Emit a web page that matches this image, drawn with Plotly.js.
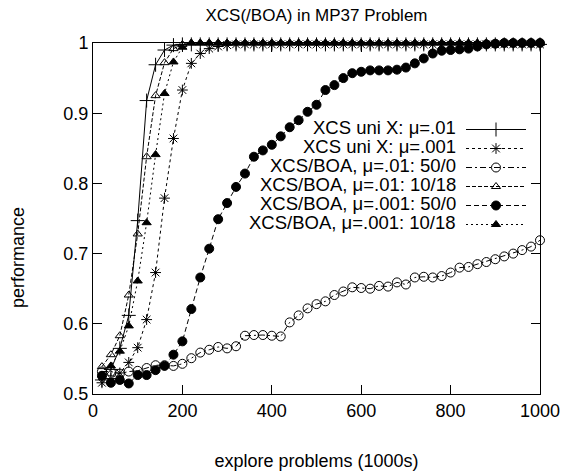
<!DOCTYPE html>
<html><head><meta charset="utf-8">
<script src="https://cdn.plot.ly/plotly-3.0.1.min.js"></script>
<style>html,body{margin:0;padding:0;background:#fff}</style>
</head><body>
<div id="chart" style="width:563px;height:472px"></div>
<script>
const explore = [20,40,60,80,100,120,140,160,180,200,
  220,240,260,280,300,320,340,360,380,400,
  420,440,460,480,500,520,540,560,580,600,
  620,640,660,680,700,720,740,760,780,800,
  820,840,860,880,900,920,940,960,980,1000];

const seriesNames = ['XCS uni X: μ=.01','XCS uni X: μ=.001','XCS/BOA, μ=.01: 50/0',
  'XCS/BOA, μ=.01: 10/18','XCS/BOA, μ=.001: 50/0','XCS/BOA, μ=.001: 10/18'];

const xcsUni01 = [0.520,0.535,0.565,0.612,0.747,0.918,0.969,0.990,0.997,0.998,
  0.998,0.998,0.998,0.998,0.998,0.998,0.998,0.998,0.998,0.998,
  0.998,0.998,0.998,0.998,0.998,0.998,0.998,0.998,0.998,0.998,
  0.998,0.998,0.998,0.998,0.998,0.998,0.998,0.998,0.998,0.998,
  0.998,0.998,0.998,0.998,0.998,0.998,0.998,0.998,0.998,0.998];

const xcsUni001 = [0.516,0.522,0.530,0.545,0.566,0.606,0.673,0.779,0.864,0.933,
  0.971,0.985,0.992,0.995,0.997,0.998,0.998,0.998,0.998,0.998,
  0.998,0.998,0.998,0.998,0.998,0.998,0.998,0.998,0.998,0.998,
  0.998,0.998,0.998,0.998,0.998,0.998,0.998,0.998,0.998,0.998,
  0.998,0.998,0.998,0.998,0.998,0.998,0.998,0.998,0.998,0.998];

const boa01_50 = [0.532,0.532,0.529,0.532,0.533,0.537,0.541,0.541,0.540,0.543,
  0.551,0.559,0.563,0.567,0.565,0.568,0.583,0.584,0.584,0.583,
  0.582,0.602,0.612,0.622,0.628,0.632,0.641,0.646,0.652,0.651,
  0.650,0.654,0.653,0.659,0.656,0.666,0.667,0.666,0.668,0.673,
  0.680,0.681,0.685,0.688,0.692,0.696,0.700,0.705,0.710,0.719];

const boa01_10 = [0.539,0.556,0.583,0.641,0.728,0.838,0.925,0.972,0.992,0.998,
  1,1,1,1,1,1,1,1,1,1,
  1,1,1,1,1,1,1,1,1,1,
  1,1,1,1,1,1,1,1,1,1,
  1,1,1,1,1,1,1,1,1,1];

const boa001_50 = [0.526,0.516,0.520,0.515,0.527,0.527,0.534,0.540,0.556,0.575,
  0.621,0.666,0.707,0.749,0.772,0.795,0.814,0.838,0.847,0.855,
  0.867,0.880,0.890,0.902,0.912,0.933,0.940,0.950,0.957,0.959,
  0.961,0.961,0.961,0.962,0.965,0.971,0.978,0.985,0.989,0.990,
  0.991,0.992,0.995,0.998,0.999,1,1,1,1,1];

const boa001_10 = [0.527,0.540,0.561,0.597,0.661,0.744,0.841,0.928,0.973,0.994,
  1,1,1,1,1,1,1,1,1,1,
  1,1,1,1,1,1,1,1,1,1,
  1,1,1,1,1,1,1,1,1,1,
  1,1,1,1,1,1,1,1,1,1];

const xTicks = [0,200,400,600,800,1000];
const yTicks = [0.5,0.6,0.7,0.8,0.9,1];
const yTickText = ['0.5','0.6','0.7','0.8','0.9','1'];

const allY = [xcsUni01,xcsUni001,boa01_50,boa01_10,boa001_50,boa001_10];
const styles = [
  {dash:'solid', symbol:'cross-thin-open', size:10},
  {dash:'3px,3px', symbol:'asterisk-open', size:9},
  {dash:'6px,3px,2px,3px', symbol:'circle-open', size:9},
  {dash:'4px,2px', symbol:'triangle-up-open', size:8},
  {dash:'5px,3px', symbol:'circle', size:9},
  {dash:'2px,3px', symbol:'triangle-up', size:8}
];

const traces = [];
allY.forEach((ys,i)=>{
  const s = styles[i];
  traces.push({
    x: explore, y: ys, type:'scatter', mode:'lines+markers', name: seriesNames[i],
    showlegend:false, cliponaxis:false,
    line:{color:'#000', width:1, dash:s.dash},
    marker:{symbol:s.symbol, size:s.size, color:'#000', line:{color:'#000', width:1}}
  });
});
// legend samples (no data)
allY.forEach((ys,i)=>{
  const s = styles[i];
  traces.push({
    x:[null], y:[null], type:'scatter', mode:'lines+markers', name:' ',
    showlegend:true, legendgroup:'g'+i,
    line:{color:'#000', width:1, dash:s.dash},
    marker:{symbol:s.symbol, size:s.size, color:'#000', line:{color:'#000', width:1}}
  });
});

const plotL = 93, plotR = 540, plotT = 43, plotB = 394;
const W = plotR-plotL, H = plotB-plotT;
const rowTop = 127, rowGap = 19, textRight = 458;
const annotations = seriesNames.map((t,i)=>({
  text:t, xref:'paper', yref:'paper', showarrow:false,
  x:(textRight-plotL)/W, xanchor:'right',
  y:(plotB-(rowTop+rowGap*i))/H, yanchor:'middle',
  font:{size:18.5, color:'#000'}
}));
annotations.push({
  text:'performance', xref:'paper', yref:'paper', showarrow:false, textangle:-90,
  x:(18-plotL)/W, xanchor:'center', y:(plotB-258)/H, yanchor:'middle',
  font:{size:18, color:'#000'}
});

const layout = {
  width:563, height:472,
  margin:{l:plotL, r:563-plotR, t:plotT, b:472-plotB},
  paper_bgcolor:'#fff', plot_bgcolor:'#fff',
  font:{family:'"Liberation Sans", Arial, sans-serif', size:18, color:'#000'},
  title:{text:'XCS(/BOA) in MP37 Problem', x:0.5, xanchor:'center', xref:'paper',
    y:1-15/472, yanchor:'middle', yref:'container', font:{size:17}},
  xaxis:{range:[0,1000], tickvals:xTicks, ticks:'inside', ticklen:9, tickcolor:'#000', tickwidth:1,
    showline:true, linecolor:'#000', linewidth:1, mirror:'ticks', showgrid:false, zeroline:false,
    title:{text:'explore problems (1000s)', standoff:34, font:{size:18}}, automargin:false},
  yaxis:{range:[0.5,1], tickvals:yTicks, ticktext:yTickText, ticks:'inside', ticklen:9, tickcolor:'#000', tickwidth:1,
    showline:true, linecolor:'#000', linewidth:1, mirror:'ticks', showgrid:false, zeroline:false,
    automargin:false},
  legend:{x:(461-plotL)/W, xanchor:'left', y:(plotB-115)/H, yanchor:'top',
    bgcolor:'rgba(0,0,0,0)', borderwidth:0, font:{size:12}, itemwidth:60, tracegroupgap:0},
  annotations: annotations
};

Plotly.newPlot('chart', traces, layout, {displayModeBar:false, staticPlot:true});
</script>
</body></html>
